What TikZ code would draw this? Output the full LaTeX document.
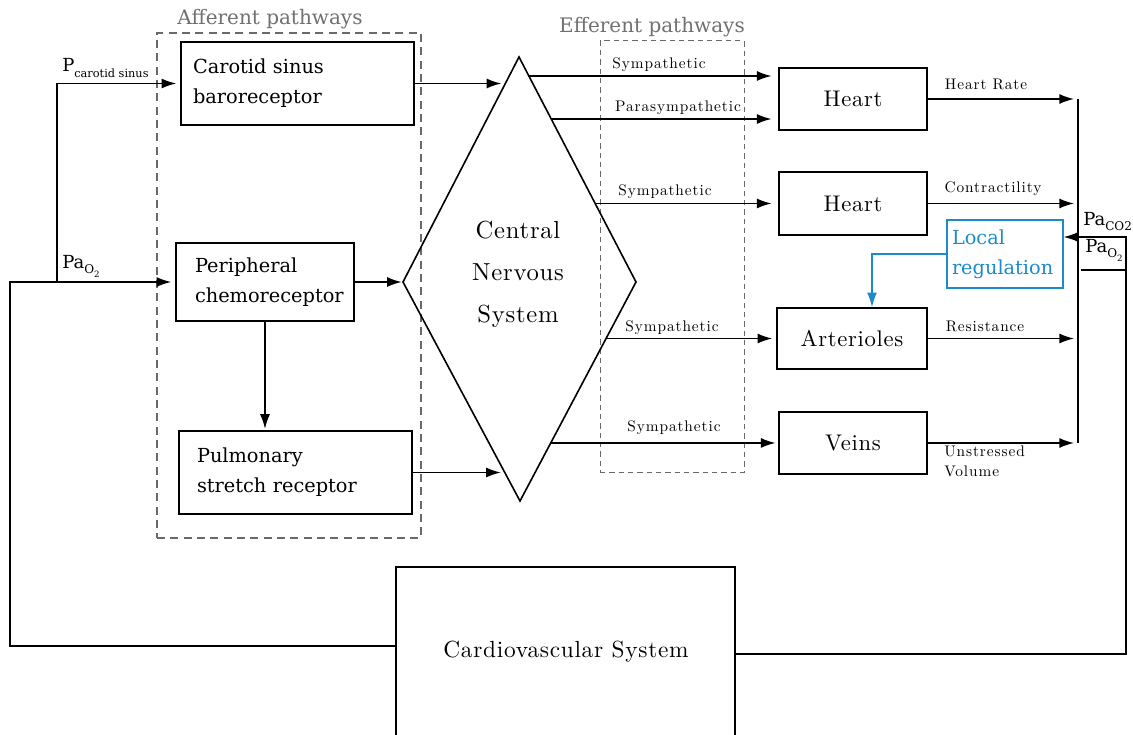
\documentclass[tikz,border=0pt]{standalone}
\usepackage{fontspec}
\usetikzlibrary{arrows.meta,calc}
\newfontfamily\ser{DejaVu Serif}
\newfontfamily\cmsp[LetterSpace=6]{lmroman10-regular.otf}
\newfontfamily\cmmid[LetterSpace=3]{lmroman10-regular.otf}
\definecolor{locblue}{RGB}{27,139,203}
\definecolor{dashgray}{RGB}{105,105,105}
\definecolor{titlegray}{RGB}{112,112,112}
% lowered small text used for subscripts in the signal names
\newcommand\lowtxt[2][8.5pt]{\raisebox{-0.3em}{\fontsize{#1}{#1}\selectfont #2}}

\begin{document}
\begin{tikzpicture}[x=0.75pt,y=-0.75pt,
  ln/.style={line width=1.1pt},
  arr/.style={ln,-{Latex[length=11pt,width=7.5pt]}},
  box/.style={draw,line width=1.2pt,inner sep=0pt},
  rbox/.style={box,align=left,font=\ser\fontsize{14.5}{22.5}\selectfont},
  cmbox/.style={box,font=\cmmid\fontsize{17}{20}\selectfont},
  lbl/.style={inner sep=0pt,font=\cmsp\fontsize{11.5}{15}\selectfont},
  sig/.style={inner sep=0pt,font=\ser\fontsize{13.5}{15}\selectfont},
  ttl/.style={inner sep=0pt,text=titlegray,font=\ser\fontsize{15}{17}\selectfont},
  affbox/.style={draw=dashgray,line width=0.9pt,dash pattern=on 6pt off 4pt,inner sep=0pt},
  effbox/.style={draw=dashgray,line width=0.75pt,dash pattern=on 4pt off 3pt,inner sep=0pt}]

\clip (0,0) rectangle (1133,735);

% pathway groups
\node[affbox,minimum width=198pt,minimum height=378.75pt] (aff) at (289,285.5) {};
\node[effbox,minimum width=108pt,minimum height=323.25pt] (eff) at (672,256.5) {};
\node[ttl] (afft) at (270,19) {Afferent pathways};
\node[ttl] (efft) at (652,27) {Efferent pathways};

% receptors
\node[rbox,text width=156.75pt,minimum width=174.75pt,minimum height=62.25pt] (cs) at (297.5,83.5) {Carotid sinus\\baroreceptor};
\node[rbox,text width=105pt,minimum width=133.5pt,minimum height=58.5pt] (pc) at (265,282) {Peripheral\\chemoreceptor};
\node[rbox,text width=147.75pt,minimum width=174.75pt,minimum height=62.25pt] (ps) at (295.5,472.5) {Pulmonary\\stretch receptor};
\draw[arr,shorten >=1pt] (pc.south) -- (pc.south |- ps.north);

% central nervous system
\coordinate (cT) at (519,57);
\coordinate (cL) at (403,282);
\coordinate (cR) at (636,282);
\coordinate (cB) at (520,501);
\draw[line width=1.2pt,line join=miter] (cT) -- (cR) -- (cB) -- (cL) -- cycle;
\node[align=center,font=\cmmid\fontsize{18.5}{31.5}\selectfont] (cns) at (518,274) {Central\\Nervous\\System};

% afferent inputs
\coordinate (inA) at ($(cT)!0.118!(cL)$);
\coordinate (inC) at ($(cL)!0.87!(cB)$);
\draw[arr,shorten >=3pt] (cs.east) -- (cs.east -| inA);
\draw[arr,shorten >=1pt] (pc.east) -- (cL);
\draw[arr,shorten >=3pt] (ps.east) -- (ps.east -| inC);

% effectors
\node[cmbox,minimum width=111pt,minimum height=46.5pt] (h1) at (853,99) {Heart};
\node[cmbox,minimum width=111pt,minimum height=47.25pt] (h2) at (853,203.5) {Heart};
\node[cmbox,minimum width=112.5pt,minimum height=45.75pt] (ar) at (852,338.5) {Arterioles};
\node[cmbox,minimum width=111pt,minimum height=46.5pt] (vn) at (853,443) {Veins};

% efferent outputs
\coordinate (o1) at ($(cT)!0.0844!(cR)$);
\coordinate (o2) at ($(cT)!0.2756!(cR)$);
\coordinate (o3) at ($(cT)!0.651!(cR)$);
\coordinate (o4) at ($(cR)!0.258!(cB)$);
\coordinate (o5) at ($(cR)!0.735!(cB)$);
\draw[arr,shorten >=5pt] (o1) -- (o1 -| h1.west);
\draw[arr,shorten >=5pt] (o2) -- (o2 -| h1.west);
\draw[arr,shorten >=5pt] (o3) -- (o3 -| h2.west);
\draw[arr,shorten >=3pt] (o4) -- (o4 -| ar.west);
\draw[arr,shorten >=2pt] (o5) -- (o5 -| vn.west);
\node[lbl] (e1) at (659,65) {Sympathetic};
\node[lbl] (e2) at (678,108) {Parasympathetic};
\node[lbl] (e3) at (665,192) {Sympathetic};
\node[lbl] (e4) at (672,328) {Sympathetic};
\node[lbl] (e5) at (674,428) {Sympathetic};

% effector outputs to the collector
\coordinate (colT) at (1078,99);
\coordinate (colB) at (1078,443);
\draw[arr,shorten >=3pt] (h1.east) -- (h1.east -| colT);
\draw[arr,shorten >=3pt] (h2.east) -- (h2.east -| colT);
\draw[arr,shorten >=3pt] (ar.east) -- (ar.east -| colT);
\draw[arr,shorten >=3pt] (vn.east) -- (vn.east -| colT);
\draw[ln] (colT) -- (colB);
\node[lbl] (r1) at (986,84) {Heart Rate};
\node[lbl] (r2) at (993,189) {Contractility};
\node[lbl] (r3) at (985,326) {Resistance};
\node[lbl,align=left,anchor=north west] (r4) at (944,446) {Unstressed\\Volume};

% local regulation
\node[box,draw=locblue,line width=0.9pt,text=locblue,align=left,text width=79.5pt,minimum width=87pt,minimum height=51pt,font=\ser\fontsize{14.5}{22.5}\selectfont] (lr) at (1005,254) {Local\\regulation};
\coordinate (arIn) at ($(ar.north)+(20,0)$);
\draw[arr,draw=locblue,-{Latex[length=11pt,width=7.5pt,fill=locblue]}] (lr.west) -| (arIn);

% cardiovascular system and feedback
\node[box,minimum width=254.25pt,minimum height=144.75pt] (cv) at (565.5,663.5) {};
\node[font=\cmmid\fontsize{17.5}{20}\selectfont] (cvt) at (566,652) {Cardiovascular System};

\coordinate (fbR) at ($(cv.north east)+(0,88)$);
\coordinate (fbC) at (1126,237);
\draw[arr] (fbR) -| (fbC) -- (fbC -| lr.east);
\coordinate (pbL) at (1081,270);
\coordinate (pbR) at (1126,270);
\draw[ln] (pbL) -- (pbR);
\node[sig,anchor=base west] (sco2) at (1083,225) {Pa\lowtxt[9pt]{CO2}};
\node[sig,anchor=base west] (so2r) at (1085,252) {Pa\lowtxt[9pt]{O\lowtxt[6.5pt]{2}}};

\coordinate (fbL) at ($(cv.north west)+(0,80)$);
\coordinate (lc) at (10,282);
\coordinate (jn) at (57,282);
\draw[arr,shorten >=3pt] (fbL) -| (lc) -- (pc.west);
\draw[arr,shorten >=3pt] (jn) |- (cs.west);
\node[sig,anchor=base west] (spc) at (62,72) {P\lowtxt{carotid sinus}};
\node[sig,anchor=base west] (so2l) at (62,268) {Pa\lowtxt[9pt]{O\lowtxt[6.5pt]{2}}};
\end{tikzpicture}
\end{document}
